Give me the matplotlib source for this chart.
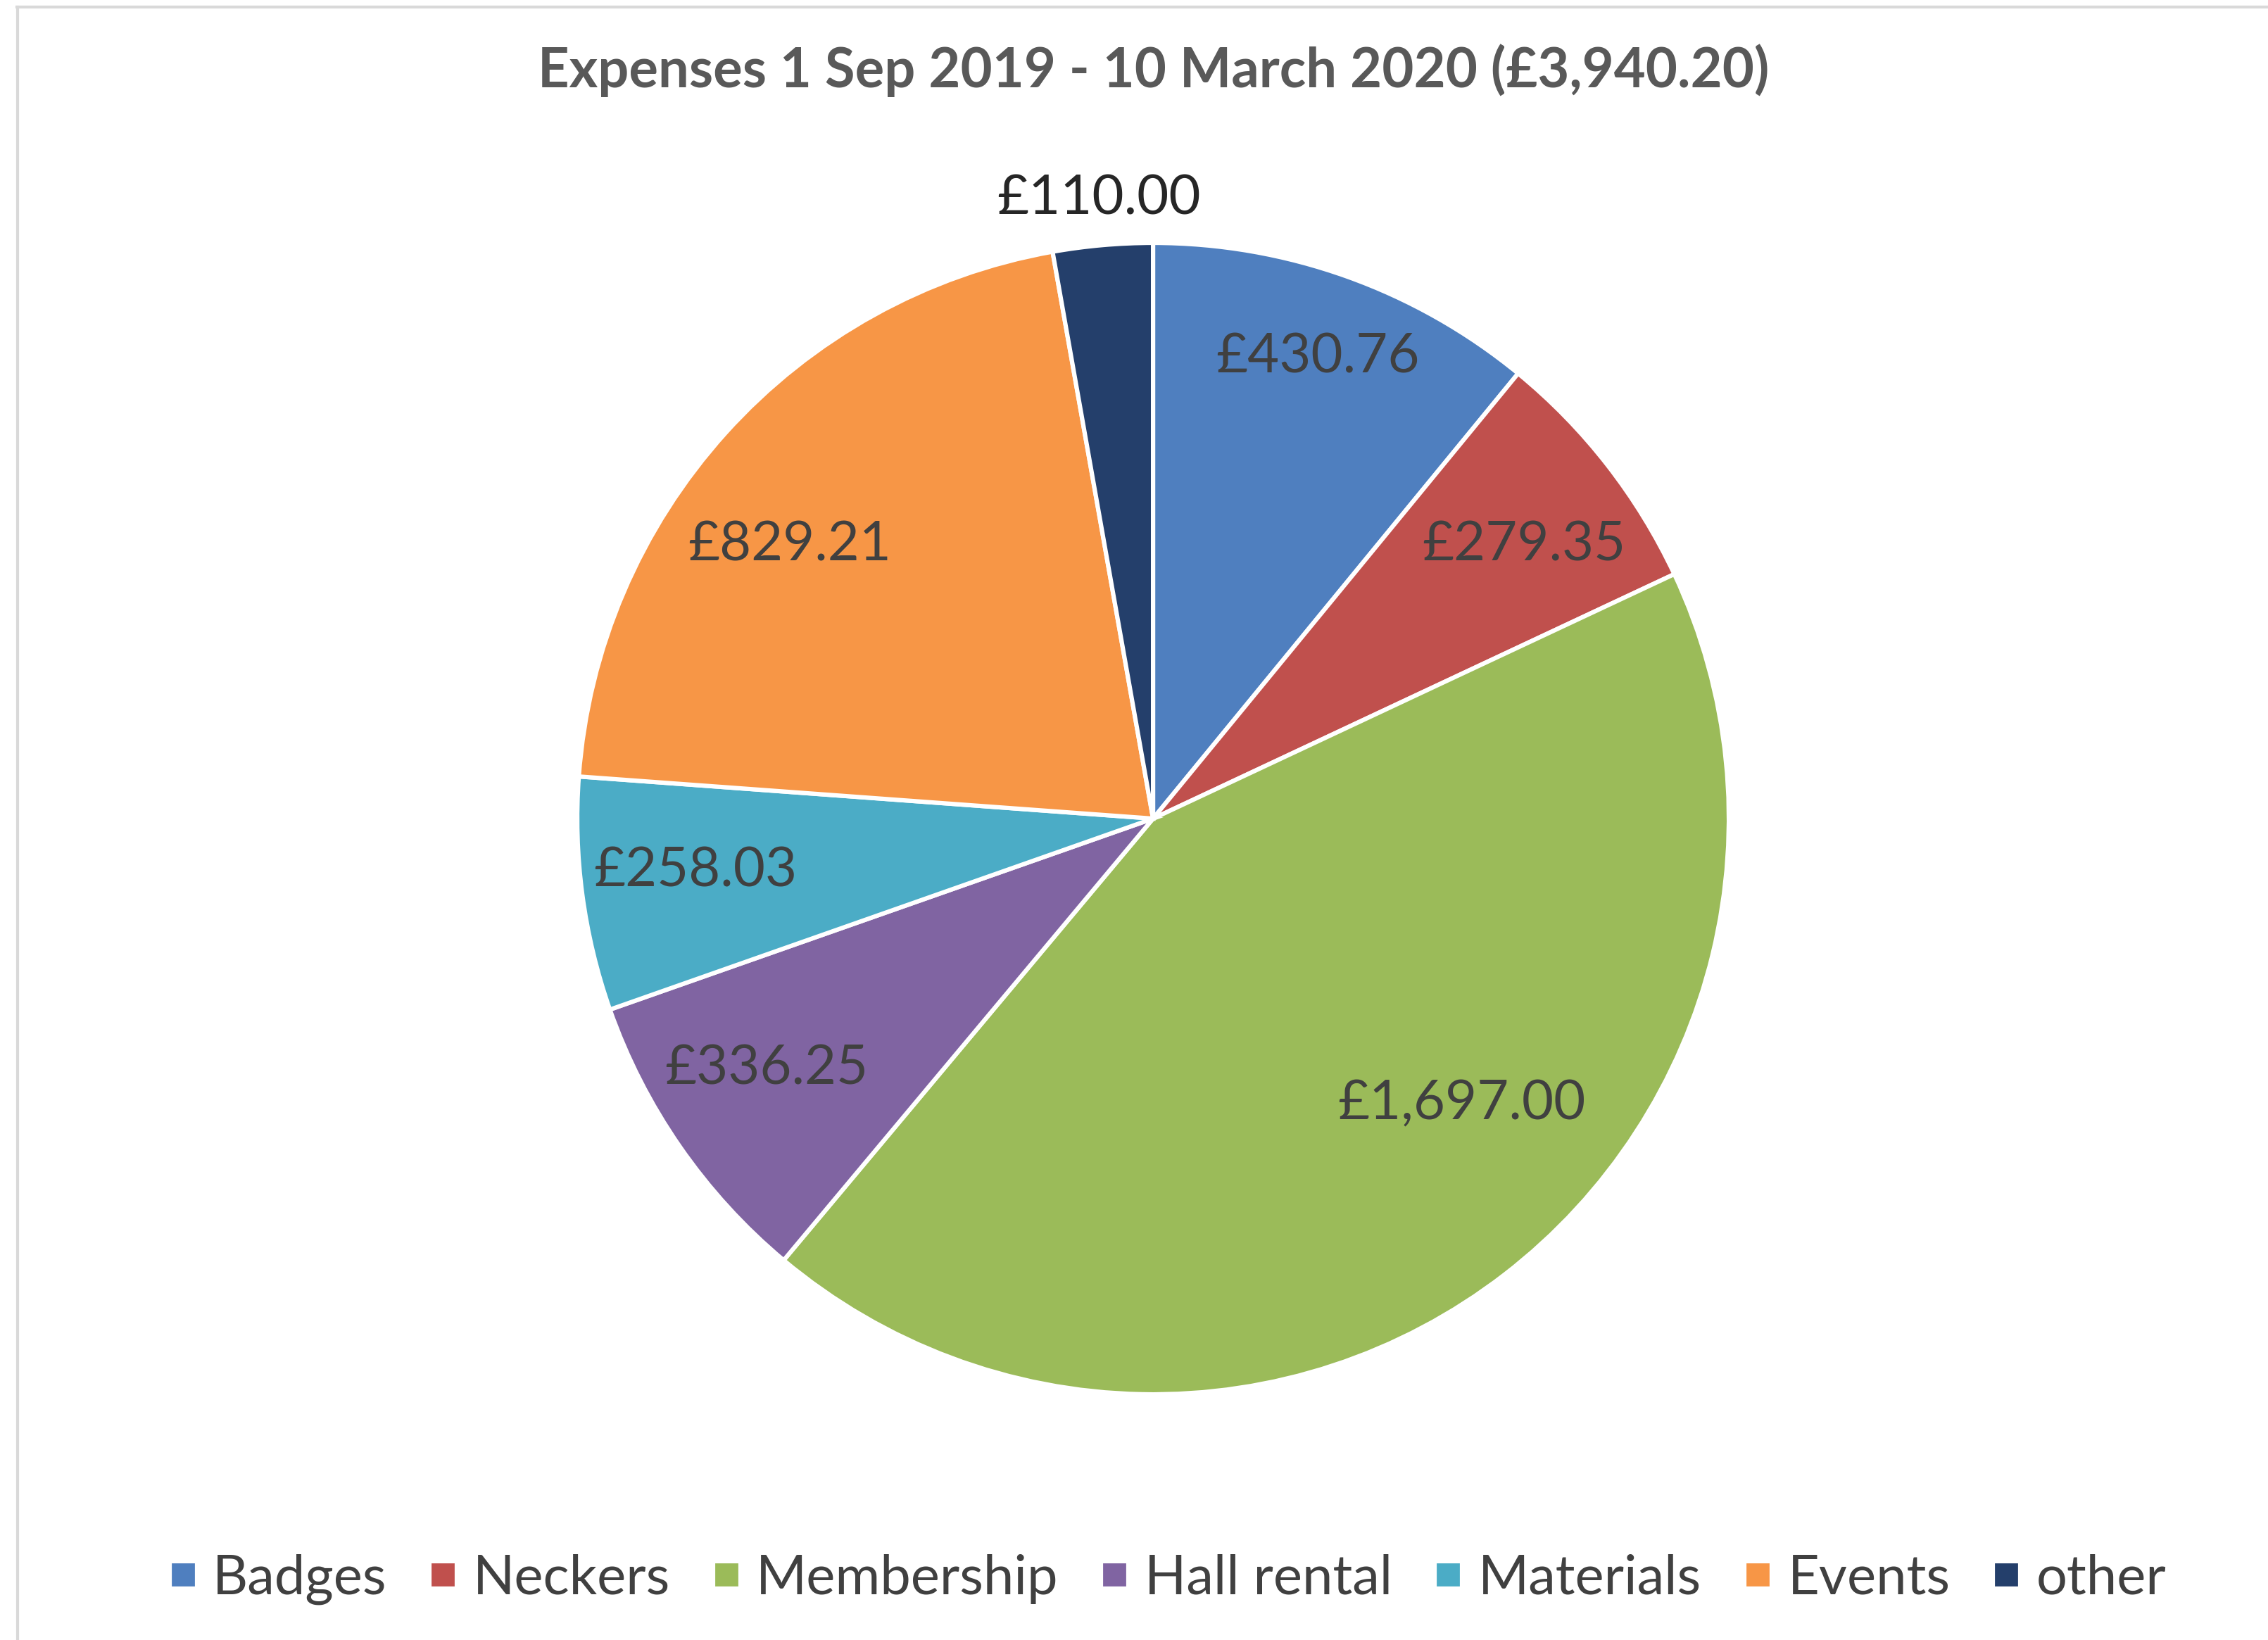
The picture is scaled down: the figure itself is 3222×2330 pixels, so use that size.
import numpy as np
import matplotlib.pyplot as plt
from matplotlib.lines import Line2D

plt.rcParams['font.family'] = ['Lato', 'DejaVu Sans']

# data
categories = ['Badges', 'Neckers', 'Membership', 'Hall rental', 'Materials', 'Events', 'other']
amounts = [430.76, 279.35, 1697.00, 336.25, 258.03, 829.21, 110.00]
value_labels = ['£430.76', '£279.35', '£1,697.00', '£336.25', '£258.03', '£829.21', '£110.00']
title = 'Expenses 1 Sep 2019 - 10 March 2020 (£3,940.20)'

colors = ['#4f7fbf', '#c0504d', '#9bbb59', '#8064a2', '#4bacc6', '#f79646', '#243f6b']
# label placement per slice: distance (fraction of radius) and angle shift (deg)
label_dist = [0.85, 0.80, 0.73, 0.80, 0.80, 0.79, 1.08]
label_shift = [0.0, -1.5, 9.6, -1.8, -1.0, 5.2, 0.0]

fig = plt.figure(figsize=(16.11, 11.65), dpi=200)
fig.patch.set_facecolor('white')

ax = fig.add_axes([0.2545, 0.1498, 0.5078, 0.7021])
wedges, _ = ax.pie(amounts, colors=colors, startangle=90, counterclock=False,
                   radius=1.0, wedgeprops=dict(edgecolor='white', linewidth=2.2))
ax.set_xlim(-1, 1)
ax.set_ylim(-1, 1)
ax.set_aspect('equal')
ax.axis('off')

for w, txt, d, s in zip(wedges, value_labels, label_dist, label_shift):
    ang = np.deg2rad((w.theta1 + w.theta2) / 2 + s)
    col = '#262626' if d > 1 else '#404040'
    ax.text(d * np.cos(ang), d * np.sin(ang), txt, ha='center', va='center',
            fontsize=28, color=col, clip_on=False)

fig.text(0.5085, 0.957, title, ha='center', va='center', fontsize=28,
         fontweight='bold', color='#595959')

handles = [Line2D([], [], marker='s', linestyle='none', markersize=11,
                  markerfacecolor=c, markeredgecolor=c) for c in colors]
fig.legend(handles, categories, loc='center', bbox_to_anchor=(0.513, 0.037),
           ncol=7, frameon=False, fontsize=28, labelcolor='#404040',
           handletextpad=0.15, columnspacing=0.62, handlelength=0.8)

# thin chart border (top and left)
fig.add_artist(Line2D([0.0075, 1.0], [0.9955, 0.9955], color='#d9d9d9', linewidth=1.5))
fig.add_artist(Line2D([0.0078, 0.0078], [0.0, 0.9955], color='#d9d9d9', linewidth=1.5))

fig.savefig('out.png', dpi=200, facecolor='white')
